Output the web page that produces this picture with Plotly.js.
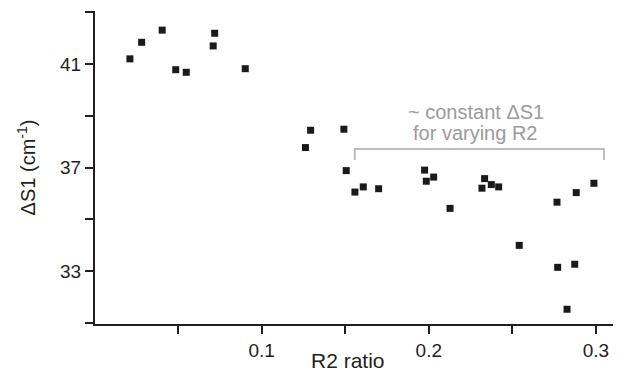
<!DOCTYPE html>
<html>
<head>
<meta charset="utf-8">
<script src="https://cdn.plot.ly/plotly-3.0.1.min.js"></script>
<style>html,body{margin:0;padding:0;background:#fff;}#chart{width:624px;height:382px;}</style>
</head>
<body>
<div id="chart"></div>
<script>
// Data
const r2Ratio = [0.0212, 0.0282, 0.0405, 0.0486, 0.0549, 0.0710, 0.0719, 0.0902,
  0.1262, 0.1293, 0.1492, 0.1506, 0.1558, 0.1608, 0.1700,
  0.1975, 0.1985, 0.2029, 0.2127, 0.2334, 0.2318, 0.2374, 0.2418,
  0.2541, 0.2767, 0.2882, 0.2988, 0.2771, 0.2873, 0.2827];
const deltaS1 = [41.20, 41.84, 42.31, 40.78, 40.68, 41.70, 42.19, 40.82,
  37.77, 38.44, 38.48, 36.88, 36.05, 36.25, 36.18,
  36.90, 36.47, 36.63, 35.42, 36.57, 36.20, 36.34, 36.25,
  33.99, 35.66, 36.03, 36.39, 33.14, 33.26, 31.52];

const xTickVals = [0.1, 0.2, 0.3];
const xTickText = ['0.1', '0.2', '0.3'];
const yTickVals = [33, 37, 41];
const yTickText = ['33', '37', '41'];

const bracketX = [0.1557, 0.1557, 0.3048, 0.3048];
const bracketY = [37.29, 37.72, 37.72, 37.29];
const noteLines = ['~ constant \u0394S1', 'for varying R2'];
const noteX = 0.228;
const noteY = [39.14, 38.32];

const xTitle = 'R2 ratio';
const yTitle = '\u0394S1 (cm<sup>-1</sup>)';

const axisColor = '#231f20';
const font = 'Liberation Sans, Arial, sans-serif';

const traces = [
  {
    x: bracketX, y: bracketY, type: 'scatter', mode: 'lines',
    line: {color: '#bdbdbd', width: 2}, hoverinfo: 'skip', showlegend: false
  },
  {
    x: r2Ratio, y: deltaS1, type: 'scatter', mode: 'markers',
    marker: {symbol: 'square', size: 7, color: '#1a1a1a'}, showlegend: false
  }
];

const tickStyle = {ticks: 'outside', ticklen: 8, tickwidth: 2, tickcolor: axisColor};

const layout = {
  width: 624, height: 382,
  margin: {l: 95, r: 11, t: 11, b: 58},
  paper_bgcolor: '#fff', plot_bgcolor: '#fff',
  font: {family: font, color: axisColor, size: 19},
  showlegend: false,
  xaxis: Object.assign({
    range: [0.0003, 0.3102], showgrid: false, zeroline: false,
    showline: true, linecolor: axisColor, linewidth: 2,
    tickvals: xTickVals, ticktext: xTickText,
    tickfont: {size: 19, family: font, color: axisColor},
    minor: Object.assign({tick0: 0, dtick: 0.05, showgrid: false}, tickStyle)
  }, tickStyle),
  yaxis: Object.assign({
    range: [30.95, 43.05], showgrid: false, zeroline: false,
    showline: true, linecolor: axisColor, linewidth: 2,
    tickvals: yTickVals, ticktext: yTickText,
    tickfont: {size: 19, family: font, color: axisColor},
    minor: Object.assign({tick0: 33, dtick: 2, showgrid: false}, tickStyle),
    title: {text: yTitle, standoff: 19, font: {size: 20, family: font, color: axisColor}}
  }, tickStyle),
  annotations: noteLines.map((t, i) => ({
    x: noteX, y: noteY[i], xref: 'x', yref: 'y', text: t, showarrow: false,
    font: {size: 20, family: font, color: '#9b9b9b'}
  })).concat([
    {x: 0.489, y: -0.118, xref: 'paper', yref: 'paper', text: xTitle, showarrow: false,
     xanchor: 'center', yanchor: 'middle', font: {size: 21, family: font, color: axisColor}}
  ])
};

Plotly.newPlot('chart', traces, layout, {staticPlot: true, displayModeBar: false});
</script>
</body>
</html>
